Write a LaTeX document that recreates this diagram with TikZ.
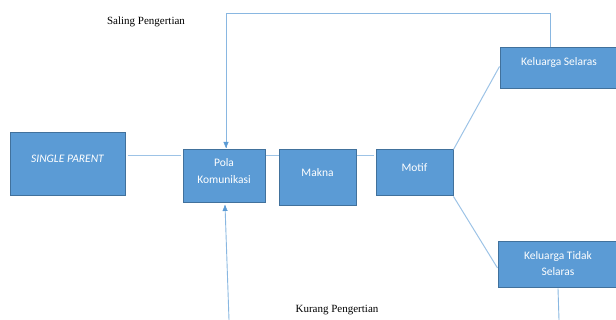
\documentclass[tikz,border=0pt]{standalone}
\usepackage{fontspec}
\setmainfont{Liberation Serif}
\newfontfamily\boxfont{Carlito}
\usetikzlibrary{arrows.meta}
\definecolor{boxblue}{HTML}{5B9BD5}
\definecolor{boxedge}{HTML}{41719C}
\definecolor{linkblue}{HTML}{9DC3E6}
\definecolor{arrowblue}{HTML}{5B9BD5}

\begin{document}
\begin{tikzpicture}[x=1pt, y=1pt,
  box/.style={draw=boxedge, fill=boxblue, line width=1pt, inner sep=0pt},
  boxtext/.style={text=white, font=\boxfont\fontsize{11.5}{16.5}\selectfont, align=center},
  link/.style={draw=linkblue, line width=1pt},
  feedback/.style={draw=linkblue!70!arrowblue, line width=0.9pt},
  tip/.style={-{Triangle[width=5pt, length=6pt]}, arrowblue},
  note/.style={font=\fontsize{11}{13}\selectfont}]
	\useasboundingbox (0,0) rectangle (616,320);

	% 1. kotak-kotak utama
	\node[box, minimum width=115pt, minimum height=63pt] (sp) at (67.5,155.5) {};
	\node[box, minimum width=82pt, minimum height=53pt] (pola) at (224,143.5) {};
	\node[box, minimum width=77pt, minimum height=56pt] (makna) at (317.5,142) {};
	\node[box, minimum width=77pt, minimum height=46pt] (motif) at (414.5,147) {};
	\node[box, minimum width=118pt, minimum height=41pt] (selaras) at (559,251.5) {};
	\node[box, minimum width=120pt, minimum height=46pt] (tidak) at (558,55) {};

	% 2. teks di dalam kotak
	\node[boxtext] (sp-t) at ([yshift=5.5]sp.center) {\itshape SINGLE PARENT};
	\node[boxtext] (pola-t) at ([yshift=5.5]pola.center) {Pola\\Komunikasi};
	\node[boxtext] (makna-t) at ([yshift=5]makna.center) {Makna};
	\node[boxtext] (motif-t) at ([yshift=5]motif.center) {Motif};
	\node[boxtext] (selaras-t) at ([yshift=6]selaras.center) {Keluarga Selaras};
	\node[boxtext] (tidak-t) at ([yshift=1.5]tidak.center) {Keluarga Tidak\\Selaras};

	% 3. garis penghubung
	\draw[link] ([xshift=2pt]sp.east |- 0,164) -- ([xshift=-2pt]pola.west |- 0,164);
	\draw[link] (pola.east |- 0,164) -- (makna.west |- 0,164);
	\draw[link] (makna.east |- 0,164) -- ([xshift=-2pt]motif.west |- 0,164);
	\draw[link] (motif.north east) -- ([yshift=2pt]selaras.west);
	\draw[link] (motif.south east) -- ([yshift=-3pt]tidak.west);

	% 4. umpan balik: saling / kurang pengertian
	\coordinate (top-r) at (550,307);
	\coordinate (top-l) at (226,307);
	\coordinate (bot-r) at (559,0);
	\coordinate (bot-l) at (229,0);
	\draw[feedback] ([xshift=-9pt]selaras.north) -- (top-r) -- (top-l)
		-- ([xshift=2pt,yshift=1.5pt]pola.north);
	\draw[tip] ([xshift=2pt,yshift=7pt]pola.north) -- ([xshift=2pt,yshift=1.5pt]pola.north);
	\draw[feedback] (tidak.south) -- (bot-r);
	\draw[feedback] (bot-l) -- ([xshift=1pt,yshift=-1.5pt]pola.south);
	\draw[tip] ([xshift=1.05pt,yshift=-7pt]pola.south) -- ([xshift=1pt,yshift=-1.5pt]pola.south);

	\node[note] (saling) at (146,298) {Saling Pengertian};
	\node[note] (kurang) at (337,10) {Kurang Pengertian};
\end{tikzpicture}
\end{document}
